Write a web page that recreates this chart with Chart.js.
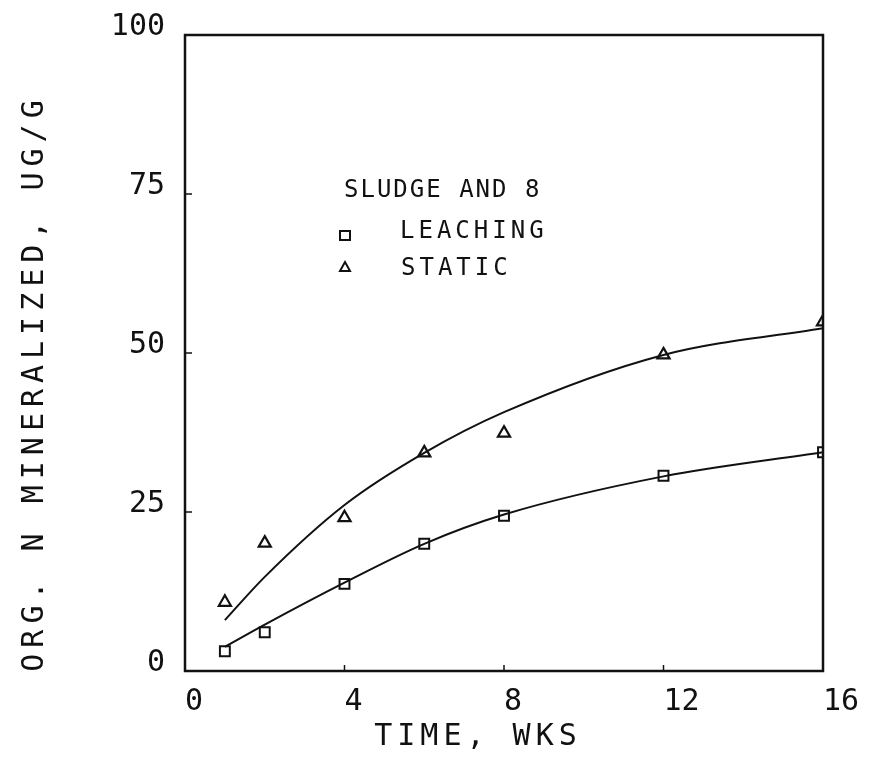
<!DOCTYPE html>
<html>
<head>
<meta charset="utf-8">
<script src="https://cdn.jsdelivr.net/npm/chart.js@4.4.1/dist/chart.umd.min.js"></script>
<style>
  html, body { margin: 0; padding: 0; background: #fff; }
  #wrap { width: 870px; height: 762px; }
</style>
</head>
<body>
<div id="wrap"><canvas id="plot" width="870" height="762"></canvas></div>
<script>
// measured points, weeks vs ug/g
const weeks = [1, 2, 4, 6, 8, 12, 16];
const leaching = [3.1, 6.1, 13.7, 20.0, 24.4, 30.7, 34.4];
const staticVals = [10.8, 20.1, 24.1, 34.3, 37.4, 49.7, 54.9];

// fitted curves as drawn on the plot
const leachingFit = [3.8, 7.3, 13.9, 20.0, 24.6, 30.6, 34.4];
const staticFit = [8.0, 14.8, 26.1, 34.3, 40.7, 49.7, 53.9];

const xTicks = [0, 4, 8, 12, 16];
const yTicks = [0, 25, 50, 75, 100];

const INK = '#111';
const FONT = "'DejaVu Sans Mono', 'Liberation Mono', monospace";

function pts(xs, ys) {
    return xs.map((x, i) => ({ x: x, y: ys[i] }));
}

// frame, inward tick marks, axis titles and the in-plot legend
const decorations = {
    id: 'decorations',
    afterDraw(chart) {
        const ctx = chart.ctx;
        const a = chart.chartArea;
        const xs = chart.scales.x;
        const ys = chart.scales.y;
        ctx.save();
        ctx.strokeStyle = INK;
        ctx.lineWidth = 2.5;
        ctx.strokeRect(a.left, a.top, a.right - a.left, a.bottom - a.top);

        ctx.lineWidth = 1.5;
        xTicks.slice(1, -1).forEach(v => {
            const px = xs.getPixelForValue(v);
            ctx.beginPath();
            ctx.moveTo(px, a.bottom);
            ctx.lineTo(px, a.bottom - 6);
            ctx.stroke();
        });
        yTicks.slice(1, -1).forEach(v => {
            const py = ys.getPixelForValue(v);
            ctx.beginPath();
            ctx.moveTo(a.left, py);
            ctx.lineTo(a.left + 7, py);
            ctx.stroke();
        });

        ctx.fillStyle = INK;
        ctx.font = '30px ' + FONT;
        ctx.letterSpacing = '5px';
        ctx.textAlign = 'center';
        ctx.textBaseline = 'alphabetic';
        ctx.fillText('TIME, WKS', 478, 745);

        ctx.save();
        ctx.translate(43, 383);
        ctx.rotate(-Math.PI / 2);
        ctx.letterSpacing = '6px';
        ctx.fillText('ORG. N MINERALIZED, UG/G', 0, 0);
        ctx.restore();

        ctx.font = '24px ' + FONT;
        ctx.textAlign = 'left';
        ctx.letterSpacing = '2px';
        ctx.fillText('SLUDGE AND 8', 344, 197);
        ctx.letterSpacing = '4px';
        ctx.fillText('LEACHING', 400, 238);
        ctx.fillText('STATIC', 401, 275);

        ctx.letterSpacing = '0px';
        ctx.lineWidth = 2;
        ctx.fillStyle = '#fff';
        ctx.beginPath();
        ctx.rect(340, 231, 10, 9);
        ctx.fill();
        ctx.stroke();
        ctx.beginPath();
        ctx.moveTo(345, 262);
        ctx.lineTo(350, 271);
        ctx.lineTo(340, 271);
        ctx.closePath();
        ctx.fill();
        ctx.stroke();
        ctx.restore();
    }
};

new Chart(document.getElementById('plot').getContext('2d'), {
    type: 'scatter',
    data: {
        datasets: [
            {
                label: 'LEACHING fit',
                data: pts(weeks, leachingFit),
                showLine: true,
                borderColor: INK,
                borderWidth: 2,
                pointRadius: 0,
                cubicInterpolationMode: 'monotone'
            },
            {
                label: 'STATIC fit',
                data: pts(weeks, staticFit),
                showLine: true,
                borderColor: INK,
                borderWidth: 2,
                pointRadius: 0,
                cubicInterpolationMode: 'monotone'
            },
            {
                label: 'LEACHING',
                data: pts(weeks, leaching),
                pointStyle: 'rect',
                pointRadius: 7,
                pointBorderWidth: 2,
                pointBorderColor: INK,
                pointBackgroundColor: '#fff'
            },
            {
                label: 'STATIC',
                data: pts(weeks, staticVals),
                pointStyle: 'triangle',
                pointRadius: 7,
                pointBorderWidth: 2.2,
                pointBorderColor: INK,
                pointBackgroundColor: '#fff'
            }
        ]
    },
    options: {
        responsive: false,
        animation: false,
        layout: { padding: { left: 0, top: 35, right: 47, bottom: 0 } },
        plugins: {
            legend: { display: false },
            tooltip: { enabled: false }
        },
        scales: {
            x: {
                type: 'linear',
                min: 0,
                max: 16,
                afterFit(s) { s.height = 91; },
                afterBuildTicks(s) { s.ticks = xTicks.map(v => ({ value: v })); },
                grid: { display: false },
                border: { display: false },
                ticks: {
                    color: INK,
                    font: { family: FONT, size: 30 },
                    align: 'start',
                    padding: 5,
                    maxRotation: 0
                }
            },
            y: {
                type: 'linear',
                min: 0,
                max: 100,
                afterFit(s) { s.width = 185; },
                afterBuildTicks(s) { s.ticks = yTicks.map(v => ({ value: v })); },
                grid: { display: false },
                border: { display: false },
                ticks: {
                    color: INK,
                    font: { family: FONT, size: 30 },
                    padding: 12,
                    labelOffset: -8
                }
            }
        }
    },
    plugins: [decorations]
});
</script>
</body>
</html>
